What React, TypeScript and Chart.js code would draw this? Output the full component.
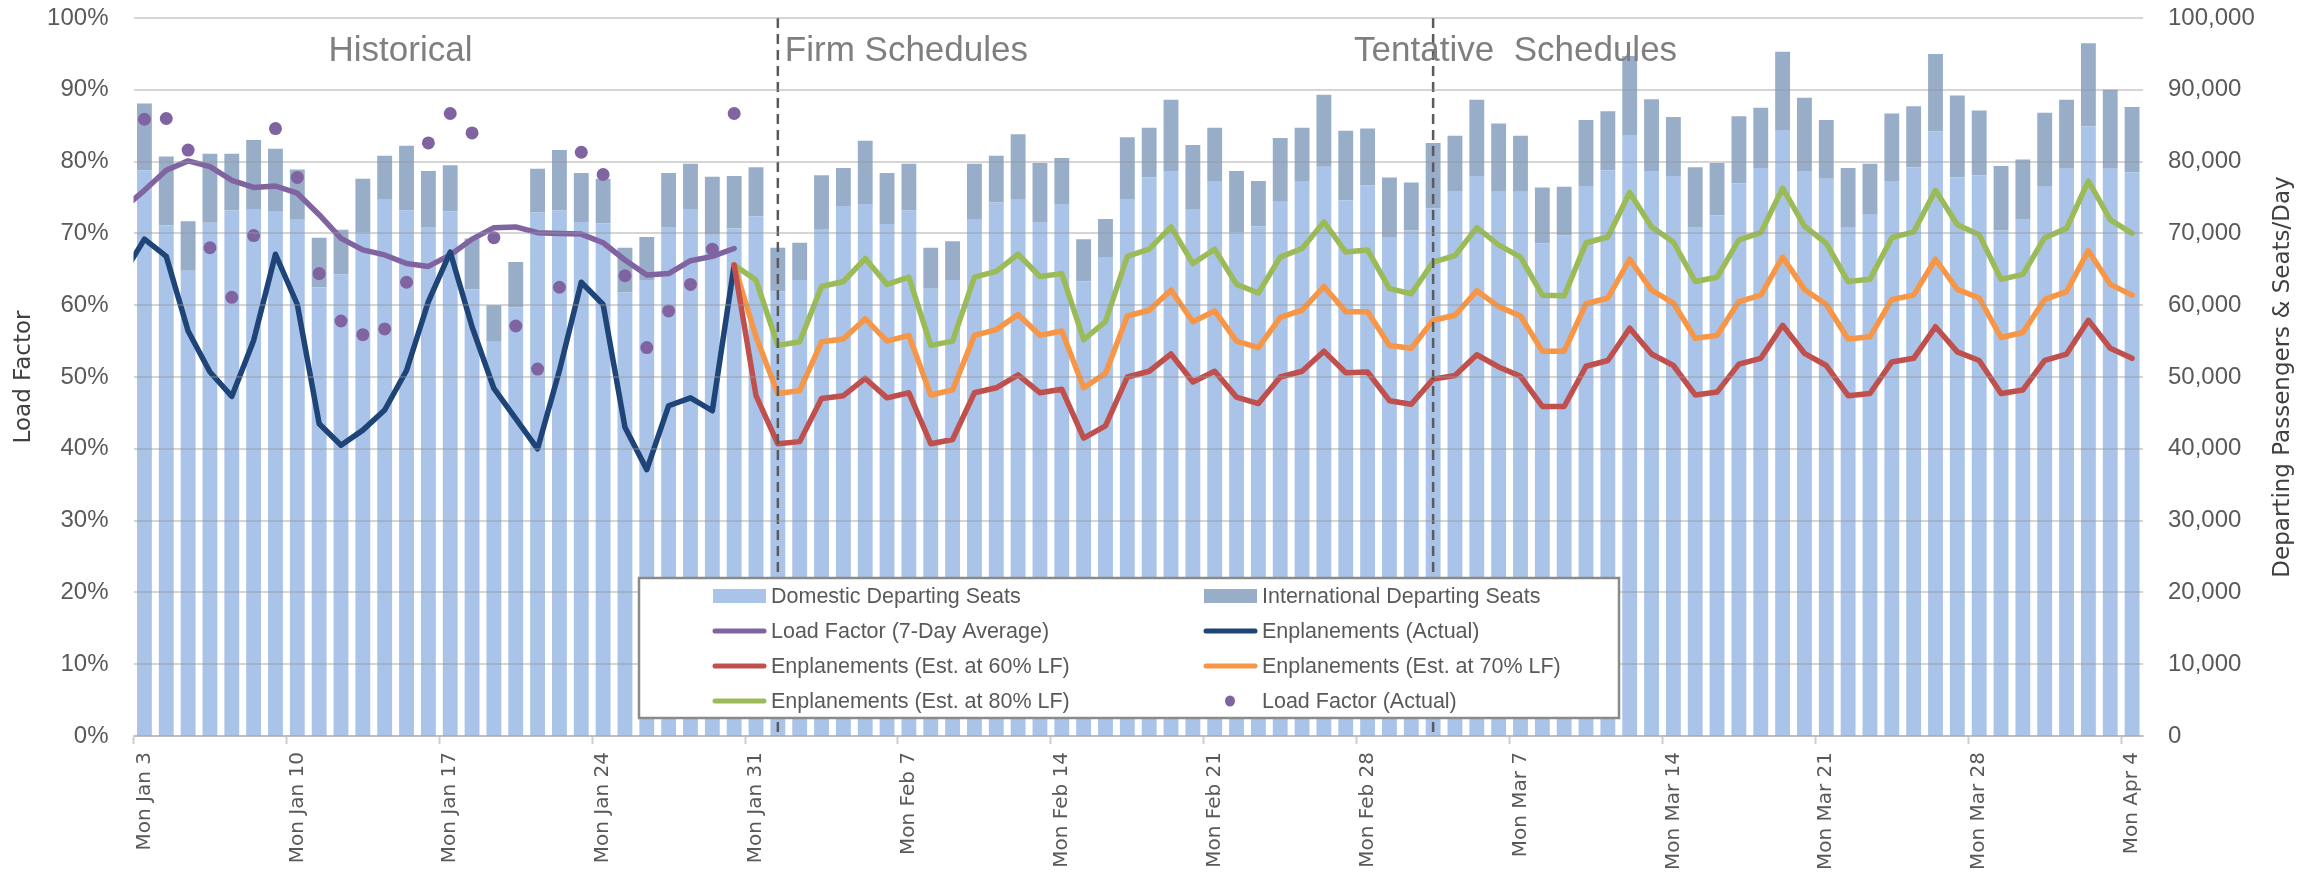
import React, { useEffect, useRef } from 'react';
import { Chart, registerables } from 'chart.js';

Chart.register(...registerables);

const NARROW = '"Liberation Sans", Arial, sans-serif';
const WIDE = '"DejaVu Sans", Verdana, sans-serif';

// ---- categories: one per day, Sun Jan 2 2022 .. Mon Apr 4 2022 ----
const WEEKDAYS = ['Sun', 'Mon', 'Tue', 'Wed', 'Thu', 'Fri', 'Sat'];
const MONTHS = ['Jan', 'Feb', 'Mar', 'Apr'];
const FIRST_DAY = Date.UTC(2022, 0, 2);
const DAY_COUNT = 93;
const CATEGORIES: string[] = Array.from({ length: DAY_COUNT }, (_, i) => {
  const d = new Date(FIRST_DAY + i * 86400000);
  return `${WEEKDAYS[d.getUTCDay()]} ${MONTHS[d.getUTCMonth()]} ${d.getUTCDate()}`;
});
const FIRST_SHOWN = 'Mon Jan 3';
const PHASE_BREAKS = ['Tue Feb 1', 'Thu Mar 3'];
const PHASE_TITLES = ['Historical', 'Firm Schedules', 'Tentative  Schedules'];
const LF_TICKS = [0, 10, 20, 30, 40, 50, 60, 70, 80, 90, 100];

// ---- seats (from Mon Jan 3) ----
const DOMESTIC_SEATS = [
  78800, 71100, 64800, 71500, 73200, 73300, 73000, 71900, 62500, 64300, 70200, 74700, 73200, 70900,
  73100, 62200, 55000, 59700, 72900, 73200, 71600, 71400, 61800, 63500, 70900, 73400, 69800, 70700,
  72400, 61900, 63500, 70600, 73800, 74100, 71300, 73200, 62300, 63500, 71900, 74300, 74700, 71600,
  74100, 63300, 66700, 74800, 77800, 78700, 73300, 77200, 70200, 71000, 74400, 77300, 79300, 74600,
  76700, 69500, 70400, 73500, 75900, 78000, 75800, 75800, 68600, 69700, 76600, 78800, 83700, 78700,
  78000, 70900, 72500, 77000, 79100, 84300, 78700, 77600, 70800, 72600, 77300, 79200, 84200, 77800,
  78100, 70400, 72000, 76500, 79000, 84900, 79000, 78500,
];
const INTERNATIONAL_SEATS = [
  9300, 9600, 6900, 9600, 7900, 9700, 8800, 7000, 6900, 6200, 7400, 6100, 9000, 7800,
  6400, 7100, 5000, 6300, 6100, 8400, 6800, 6200, 6200, 6000, 7500, 6300, 8100, 7300,
  6800, 6100, 5200, 7500, 5300, 8800, 7100, 6500, 5700, 5400, 7800, 6500, 9100, 8200,
  6400, 5900, 5300, 8600, 6900, 9900, 9000, 7500, 8500, 6300, 8900, 7400, 10000, 9700,
  7900, 8300, 6700, 9100, 7700, 10600, 9500, 7800, 7800, 6800, 9200, 8200, 11000, 10000,
  8200, 8300, 7300, 9300, 8400, 11000, 10200, 8200, 8300, 7100, 9400, 8500, 10800, 11400,
  9000, 9000, 8300, 10300, 9600, 11600, 11000, 9100,
];

// ---- historical series (from Sun Jan 2) ----
const LF_7DAY_AVG = [
  73.4, 76.0, 78.8, 80.1, 79.3, 77.4, 76.4, 76.6, 75.6, 72.6, 69.3, 67.7, 67.0, 65.8, 65.4,
  67.0, 69.2, 70.8, 70.9, 70.1, 70.0, 69.9, 68.7, 66.3, 64.2, 64.4, 66.2, 66.8, 67.9,
];
const ENPL_ACTUAL = [
  64200, 69200, 66800, 56400, 50700, 47300, 55100, 67100, 60100, 43500, 40500, 42600, 45400, 50900,
  60500, 67400, 57000, 48400, 44200, 40000, 50900, 63200, 60100, 43000, 37100, 46000, 47100, 45300,
  65600,
];
// ---- load factor actual (from Mon Jan 3) ----
const LF_ACTUAL = [
  85.9, 86.0, 81.6, 68.0, 61.1, 69.7, 84.6, 77.8, 64.4, 57.8, 55.9, 56.7, 63.2, 82.6,
  86.7, 84.0, 69.4, 57.1, 51.1, 62.5, 81.3, 78.2, 64.1, 54.1, 59.2, 62.9, 67.8, 86.7,
];

// ---- estimates (from Sun Jan 30) ----
const EST_START = 'Sun Jan 30';
const ENPL_EST_60 = [
  65600, 47400, 40700, 41000, 47000, 47400, 49800, 47100, 47800, 40700, 41300, 47800, 48500, 50300,
  47800, 48300, 41500, 43200, 50000, 50800, 53200, 49300, 50800, 47200, 46300, 50000, 50800, 53600,
  50600, 50700, 46700, 46200, 49700, 50200, 53100, 51400, 50100, 45900, 45900, 51500, 52300, 56800,
  53200, 51600, 47500, 47900, 51800, 52600, 57200, 53300, 51600, 47400, 47700, 52100, 52600, 57000,
  53500, 52300, 47700, 48200, 52300, 53200, 57900, 54000, 52600,
];
const ENPL_EST_70 = [
  65600, 55600, 47700, 48100, 54900, 55300, 58100, 55000, 55800, 47500, 48200, 55800, 56600, 58700,
  55800, 56400, 48500, 50500, 58500, 59300, 62100, 57700, 59200, 55000, 54100, 58300, 59300, 62600,
  59100, 59100, 54400, 54000, 57900, 58600, 62000, 59800, 58500, 53600, 53600, 60200, 61000, 66400,
  62100, 60300, 55400, 55800, 60500, 61400, 66700, 62200, 60100, 55300, 55600, 60800, 61400, 66400,
  62200, 61000, 55500, 56200, 60800, 61900, 67600, 62900, 61400,
];
const ENPL_EST_80 = [
  65600, 63500, 54400, 54900, 62600, 63300, 66500, 62900, 63900, 54400, 55000, 63900, 64700, 67100,
  64000, 64400, 55200, 57700, 66800, 67800, 70900, 65800, 67800, 62900, 61700, 66700, 67900, 71600,
  67400, 67700, 62300, 61600, 66000, 66900, 70800, 68400, 66700, 61400, 61300, 68700, 69500, 75700,
  70900, 68800, 63300, 63900, 69100, 70100, 76300, 71000, 68600, 63300, 63600, 69400, 70200, 76000,
  71200, 69800, 63600, 64300, 69400, 70700, 77300, 71900, 70000,
];

const alignFrom = (label: string, values: number[]) => {
  const offset = CATEGORIES.indexOf(label);
  return [...Array(offset).fill(null), ...values];
};

const COLORS = {
  domestic: '#A9C4E8',
  international: '#97ADC8',
  lfAvg: '#8064A2',
  actual: '#1F4478',
  est60: '#C0504D',
  est70: '#F79646',
  est80: '#9BBB59',
  lfDots: '#8064A2',
};

const lineBase = {
  type: 'line' as const,
  borderWidth: 5.5,
  pointRadius: 0,
  pointHoverRadius: 0,
  borderJoinStyle: 'round' as const,
  borderCapStyle: 'round' as const,
  tension: 0,
  fill: false,
};

// legend layout order (row-major, two columns) as dataset indices
const LEGEND_ORDER = [0, 1, 2, 3, 4, 5, 6, 7];

const overlayPlugin = {
  id: 'overlay',
  afterDatasetsDraw(chart: any) {
    const { ctx, chartArea } = chart;
    const xs = chart.scales.x;
    ctx.save();
    const breaks = PHASE_BREAKS.map((l) => xs.getPixelForValue(CATEGORIES.indexOf(l)));
    ctx.strokeStyle = '#5a5a5a';
    ctx.lineWidth = 2.5;
    ctx.setLineDash([10, 6]);
    breaks.forEach((bx: number) => {
      ctx.beginPath();
      ctx.moveTo(bx, chartArea.top);
      ctx.lineTo(bx, chartArea.bottom);
      ctx.stroke();
    });
    ctx.setLineDash([]);
    ctx.fillStyle = '#7f7f7f';
    ctx.font = `35px ${NARROW}`;
    ctx.textBaseline = 'alphabetic';
    ctx.textAlign = 'left';
    const ty = chartArea.top + 43;
    ctx.fillText(PHASE_TITLES[0], chartArea.left + 195, ty);
    ctx.fillText(PHASE_TITLES[1], breaks[0] + 7, ty);
    ctx.fillText(PHASE_TITLES[2], breaks[1] - 79, ty);
    ctx.restore();
  },
  afterDraw(chart: any) {
    const { ctx, chartArea } = chart;
    ctx.save();
    ctx.fillStyle = '#404040';
    ctx.font = `23px ${WIDE}`;
    ctx.textAlign = 'center';
    ctx.textBaseline = 'middle';
    ctx.translate(chartArea.right + 140.5, (chartArea.top + chartArea.bottom) / 2);
    ctx.rotate(-Math.PI / 2);
    ctx.fillText('Departing Passengers & Seats/Day', 0, 0);
    ctx.restore();

    ctx.save();
    const L = chartArea.left + 505.5;
    const T = chartArea.top + 560;
    const W = 980;
    const H = 140;
    ctx.fillStyle = '#ffffff';
    ctx.fillRect(L, T, W, H);
    ctx.strokeStyle = '#8a8a8a';
    ctx.lineWidth = 2.5;
    ctx.strokeRect(L, T, W, H);
    const colX = [L + 74, L + 565];
    const rowY = [T + 18, T + 53, T + 88, T + 123];
    ctx.font = `21.5px ${NARROW}`;
    ctx.textBaseline = 'middle';
    ctx.textAlign = 'left';
    LEGEND_ORDER.forEach((di, k) => {
      const ds = chart.data.datasets[di];
      const sx = colX[k % 2];
      const sy = rowY[Math.floor(k / 2)];
      if (ds.type === 'bar') {
        ctx.fillStyle = ds.backgroundColor;
        ctx.fillRect(sx, sy - 7, 53, 14);
      } else if (ds.showLine === false) {
        ctx.fillStyle = ds.pointBackgroundColor;
        ctx.beginPath();
        ctx.ellipse(sx + 26, sy, 5, 5.5, 0, 0, Math.PI * 2);
        ctx.fill();
      } else {
        ctx.strokeStyle = ds.borderColor;
        ctx.lineWidth = 5;
        ctx.lineCap = 'round';
        ctx.beginPath();
        ctx.moveTo(sx + 2, sy);
        ctx.lineTo(sx + 51, sy);
        ctx.stroke();
      }
      ctx.fillStyle = '#595959';
      ctx.fillText(ds.label, sx + 58, sy + 1);
    });
    ctx.restore();
  },
};

export default function App() {
  const ref = useRef<HTMLCanvasElement>(null);

  useEffect(() => {
    if (!ref.current) return;
    const datasets: any[] = [
      {
        type: 'bar',
        label: 'Domestic Departing Seats',
        data: alignFrom(FIRST_SHOWN, DOMESTIC_SEATS),
        backgroundColor: COLORS.domestic,
        yAxisID: 'y2',
        stack: 'seats',
        order: 10,
        barPercentage: 0.68,
        categoryPercentage: 1,
      },
      {
        type: 'bar',
        label: 'International Departing Seats',
        data: alignFrom(FIRST_SHOWN, INTERNATIONAL_SEATS),
        backgroundColor: COLORS.international,
        yAxisID: 'y2',
        stack: 'seats',
        order: 10,
        barPercentage: 0.68,
        categoryPercentage: 1,
      },
      {
        ...lineBase,
        label: 'Load Factor (7-Day Average)',
        data: alignFrom('Sun Jan 2', LF_7DAY_AVG),
        borderColor: COLORS.lfAvg,
        yAxisID: 'y',
        stack: 'lfavg',
        order: 3,
      },
      {
        ...lineBase,
        label: 'Enplanements (Actual)',
        data: alignFrom('Sun Jan 2', ENPL_ACTUAL),
        borderColor: COLORS.actual,
        yAxisID: 'y2',
        stack: 'actual',
        order: 2,
      },
      {
        ...lineBase,
        label: 'Enplanements (Est. at 60% LF)',
        data: alignFrom(EST_START, ENPL_EST_60),
        borderColor: COLORS.est60,
        yAxisID: 'y2',
        stack: 'e60',
        order: 1,
      },
      {
        ...lineBase,
        label: 'Enplanements (Est. at 70% LF)',
        data: alignFrom(EST_START, ENPL_EST_70),
        borderColor: COLORS.est70,
        yAxisID: 'y2',
        stack: 'e70',
        order: 1,
      },
      {
        ...lineBase,
        label: 'Enplanements (Est. at 80% LF)',
        data: alignFrom(EST_START, ENPL_EST_80),
        borderColor: COLORS.est80,
        yAxisID: 'y2',
        stack: 'e80',
        order: 1,
      },
      {
        type: 'line',
        label: 'Load Factor (Actual)',
        data: alignFrom(FIRST_SHOWN, LF_ACTUAL),
        showLine: false,
        pointRadius: 6.5,
        pointHoverRadius: 6.5,
        pointBorderWidth: 0,
        pointBackgroundColor: COLORS.lfDots,
        borderColor: COLORS.lfDots,
        yAxisID: 'y',
        stack: 'lfdots',
        order: 0,
      },
    ];

    const chart = new Chart(ref.current, {
      type: 'bar',
      data: { labels: CATEGORIES, datasets },
      plugins: [overlayPlugin],
      options: {
        responsive: false,
        animation: false,
        devicePixelRatio: 1,
        layout: { padding: { top: 18, left: 0, right: 0, bottom: 0 } },
        plugins: { legend: { display: false }, tooltip: { enabled: false } },
        events: [],
        scales: {
          x: {
            type: 'category',
            min: FIRST_SHOWN,
            offset: true,
            stacked: true,
            grid: {
              display: true,
              offset: true,
              drawOnChartArea: false,
              drawTicks: true,
              tickLength: 8,
              tickWidth: 2,
              tickColor: (c: any) => (c.index % 7 === 0 ? '#cfcfcf' : 'rgba(0,0,0,0)'),
            },
            border: { display: true, color: '#d9d9d9', width: 2 },
            ticks: {
              autoSkip: false,
              maxRotation: 90,
              minRotation: 90,
              padding: 8,
              color: '#595959',
              font: { family: WIDE, size: 20 },
              callback: function (this: any, v: any) {
                const l = this.getLabelForValue(v);
                return l.startsWith('Mon') ? l : '';
              },
            },
            afterFit: (s: any) => {
              s.height = 136;
              s.paddingLeft = 0;
              s.paddingRight = 0;
            },
          },
          y: {
            type: 'linear',
            position: 'left',
            min: LF_TICKS[0],
            max: LF_TICKS[LF_TICKS.length - 1],
            ticks: {
              stepSize: 10,
              padding: 25,
              color: '#595959',
              font: { family: NARROW, size: 24 },
              callback: (v: any) => `${v}%`,
            },
            grid: { color: 'rgba(150,150,150,0.4)', lineWidth: 2, drawTicks: false, z: 1 },
            border: { display: false },
            title: {
              display: true,
              text: 'Load Factor',
              color: '#404040',
              font: { family: WIDE, size: 23 },
              padding: { top: 10, bottom: 0 },
            },
            afterFit: (s: any) => {
              s.width = 133.5;
              s.paddingTop = 0;
              s.paddingBottom = 0;
            },
          },
          y2: {
            type: 'linear',
            position: 'right',
            stacked: true,
            min: 0,
            max: 100000,
            ticks: {
              stepSize: 10000,
              padding: 25,
              color: '#595959',
              font: { family: NARROW, size: 24 },
              callback: (v: any) => Number(v).toLocaleString('en-US'),
            },
            grid: { display: false, drawTicks: false },
            border: { display: false },
            afterFit: (s: any) => {
              s.width = 180;
              s.paddingTop = 0;
              s.paddingBottom = 0;
            },
          },
        },
      } as any,
    });
    return () => chart.destroy();
  }, []);

  return (
    <div style={{ position: 'fixed', left: 0, top: 0, width: 2323, height: 872, background: '#ffffff' }}>
      <canvas ref={ref} width={2323} height={872} style={{ display: 'block', width: 2323, height: 872 }} />
    </div>
  );
}
